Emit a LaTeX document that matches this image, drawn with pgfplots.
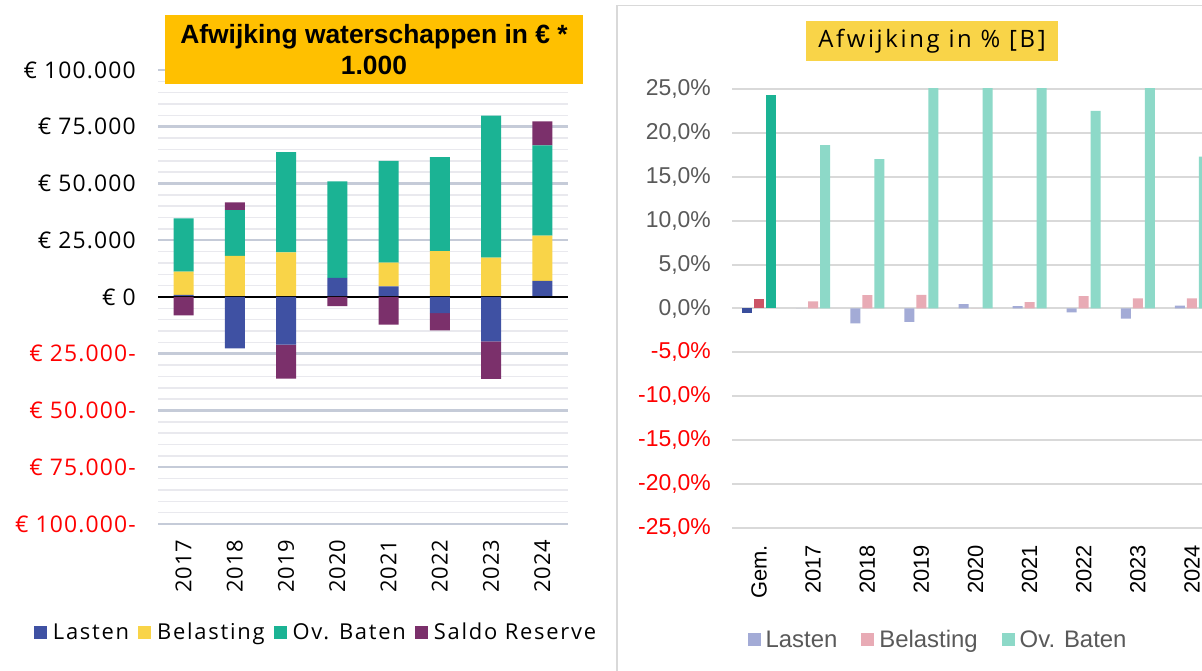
\documentclass[border=0pt]{standalone}
\usepackage{pgfplots}
\pgfplotsset{compat=1.18}
\usepackage{fontspec}
\setmainfont{Open Sans}
\newfontfamily\lsfont{Open Sans}[LetterSpace=8]
\newfontfamily\titfont{Open Sans}[LetterSpace=11]
\newfontfamily\numfont{Open Sans}[LetterSpace=3]
\newfontfamily\ynumfont{Open Sans}[LetterSpace=5]
\newfontfamily\arial{Liberation Sans}
\definecolor{lasten}{HTML}{3F51A3}
\definecolor{belast}{HTML}{F9D448}
\definecolor{ovbaten}{HTML}{1BB394}
\definecolor{saldo}{HTML}{7B306B}
\definecolor{majgrid}{HTML}{C5CBD8}
\definecolor{mingrid}{HTML}{E9E9EE}
\definecolor{rgrid}{HTML}{D9D9D9}
\definecolor{rlastd}{HTML}{3A4E9C}
\definecolor{rbeld}{HTML}{CC5466}
\definecolor{rovd}{HTML}{1BB394}
\definecolor{rlastl}{HTML}{A3ABD6}
\definecolor{rbell}{HTML}{E8ABB5}
\definecolor{rovl}{HTML}{8DD9C8}
\definecolor{txtgray}{HTML}{595959}
\definecolor{titlegold}{HTML}{FFC000}
\definecolor{titleyel}{HTML}{F9D448}
\begin{document}
\begin{tikzpicture}[x=1bp,y=1bp]
\useasboundingbox (0,0) rectangle (1202,671);
\fill[white] (0,0) rectangle (1202,671);
\clip (0,0) rectangle (1202,671);
% ---------- LEFT CHART: positive parts ----------
\begin{axis}[
  at={(158bp,147bp)}, anchor=south west,
  scale only axis, width=410bp, height=454bp,
  xmin=-0.5, xmax=7.5, ymin=-100000, ymax=100000,
  scaled y ticks=false,
  ybar stacked, bar width=20bp,
  xtick={0,...,7}, xticklabels={2017,2018,2019,2020,2021,2022,2023,2024},
  ytick={-100000,-75000,-50000,-25000,0,25000,50000,75000,100000},
  yticklabels={{\textcolor{red}{€ 100.000-}},{\textcolor{red}{€ 75.000-}},{\textcolor{red}{€ 50.000-}},{\textcolor{red}{€ 25.000-}},{€ 0},{€ 25.000},{€ 50.000},{€ 75.000},{€ 100.000}},
  minor y tick num=4,
  ymajorgrids, yminorgrids,
  major grid style={majgrid, line width=2.5bp},
  minor grid style={mingrid, line width=1.5bp},
  axis line style={draw=none},
  major tick length=0pt, minor tick length=0pt,
  tick style={draw=none},
  yticklabel style={font=\ynumfont\fontsize{23}{27}\selectfont, anchor=east, inner sep=0pt},
  yticklabel shift=22bp,
  xticklabel style={font=\numfont\fontsize{22}{26}\selectfont, rotate=90, anchor=east, inner sep=0pt},
  xticklabel shift=16bp,
  legend columns=4,
  legend style={at={(0.383,-0.238)}, anchor=center, draw=none, fill=none, inner sep=0pt,
    font=\lsfont\fontsize{22}{26}\selectfont,
    /tikz/every odd column/.append style={column sep=6bp},
    /tikz/every even column/.append style={column sep=9bp},
    nodes={inner sep=0pt}},
  legend image code/.code={\fill[#1] (0bp,-6.5bp) rectangle (13bp,6.5bp);},
]
\addplot[fill=lasten, draw=none] coordinates {(0,900) (1,0) (2,0) (3,8400) (4,4700) (5,0) (6,0) (7,7060)};
\addlegendentry{Lasten}
\addplot[fill=belast, draw=none] coordinates {(0,10300) (1,18100) (2,19700) (3,0) (4,10400) (5,20150) (6,17350) (7,20000)};
\addlegendentry{Belasting}
\addplot[fill=ovbaten, draw=none] coordinates {(0,23400) (1,20150) (2,44100) (3,42500) (4,44850) (5,41470) (6,62500) (7,39700)};
\addlegendentry{Ov. Baten}
\addplot[fill=saldo, draw=none] coordinates {(0,0) (1,3400) (2,0) (3,0) (4,0) (5,0) (6,0) (7,10600)};
\addlegendentry{Saldo Reserve}
\end{axis}
% ---------- LEFT CHART: negative parts ----------
\begin{axis}[
  at={(158bp,147bp)}, anchor=south west,
  scale only axis, width=410bp, height=454bp,
  xmin=-0.5, xmax=7.5, ymin=-100000, ymax=100000,
  ybar stacked, bar width=20bp, hide axis,
]
\addplot[fill=lasten, draw=none] coordinates {(0,0) (1,-22600) (2,-21000) (3,0) (4,0) (5,-7060) (6,-19560) (7,0)};
\addplot[fill=saldo, draw=none] coordinates {(0,-8100) (1,0) (2,-15000) (3,-4000) (4,-12200) (5,-7650) (6,-16470) (7,0)};
\draw[black, line width=1.8bp] (axis cs:-0.5,0) -- (axis cs:7.5,0);
\end{axis}
% left title
\node[fill=titlegold, minimum width=418bp, minimum height=69bp, inner sep=0pt, align=center,
  font=\arial\bfseries\fontsize{26.5}{31}\selectfont] at (374,621.5) {Afwijking waterschappen in € *\\1.000};
% ---------- RIGHT CHART ----------
\draw[rgrid, line width=1.5bp] (617,-5) -- (617,665.5) -- (1215,665.5);
\begin{axis}[
  at={(732bp,143bp)}, anchor=south west,
  scale only axis, width=487bp, height=439bp,
  xmin=-0.5, xmax=8.5, ymin=-25, ymax=25,
  ybar, bar width=10bp,
  xtick={0,...,8}, xticklabels={Gem.,2017,2018,2019,2020,2021,2022,2023,2024},
  ytick={-25,-20,-15,-10,-5,0,5,10,15,20,25},
  yticklabels={{\textcolor{red}{-25,0\%}},{\textcolor{red}{-20,0\%}},{\textcolor{red}{-15,0\%}},{\textcolor{red}{-10,0\%}},{\textcolor{red}{-5,0\%}},{0,0\%},{5,0\%},{10,0\%},{15,0\%},{20,0\%},{25,0\%}},
  ymajorgrids, major grid style={rgrid, line width=2bp},
  axis line style={draw=none},
  major tick length=0pt, tick style={draw=none},
  yticklabel style={font=\arial\fontsize{23}{27}\selectfont, text=txtgray, anchor=east, inner sep=0pt},
  yticklabel shift=21bp,
  xticklabel style={font=\arial\fontsize{22}{26}\selectfont, rotate=90, anchor=east, inner sep=0pt},
  xticklabel shift=17bp,
  legend columns=3,
  legend style={at={(0.421,-0.255)}, anchor=center, draw=none, fill=none, inner sep=0pt,
    font=\arial\fontsize{24}{28}\selectfont, text=txtgray,
    /tikz/every odd column/.append style={column sep=5bp},
    /tikz/every even column/.append style={column sep=24bp},
    nodes={inner sep=0pt}},
  legend image code/.code={\fill[#1] (0bp,-6.5bp) rectangle (13bp,6.5bp);},
]
\addplot[fill=rlastl, draw=none, bar shift=-12bp] coordinates {(1,0) (2,-1.7) (3,-1.52) (4,0.5) (5,0.27) (6,-0.45) (7,-1.14) (8,0.34)};
\addlegendentry{Lasten}
\addplot[fill=rbell, draw=none, bar shift=0bp] coordinates {(1,0.8) (2,1.52) (3,1.56) (4,0) (5,0.72) (6,1.4) (7,1.14) (8,1.14)};
\addlegendentry{Belasting}
\addplot[fill=rovl, draw=none, bar shift=12bp] coordinates {(1,18.6) (2,17.0) (3,30.0) (4,32.0) (5,31.0) (6,22.5) (7,33.0) (8,17.3)};
\addlegendentry{Ov. Baten}
\addplot[forget plot, fill=rlastd, draw=none, bar shift=-12bp] coordinates {(0,-0.5)};
\addplot[forget plot, fill=rbeld, draw=none, bar shift=0bp] coordinates {(0,1.07)};
\addplot[forget plot, fill=rovd, draw=none, bar shift=12bp] coordinates {(0,24.35)};
\end{axis}
\node[fill=titleyel, minimum width=252bp, minimum height=40bp, inner sep=0pt,
  font=\titfont\fontsize{24}{28}\selectfont] at (932,630) {Afwijking in \% [B]};
\end{tikzpicture}
\end{document}
